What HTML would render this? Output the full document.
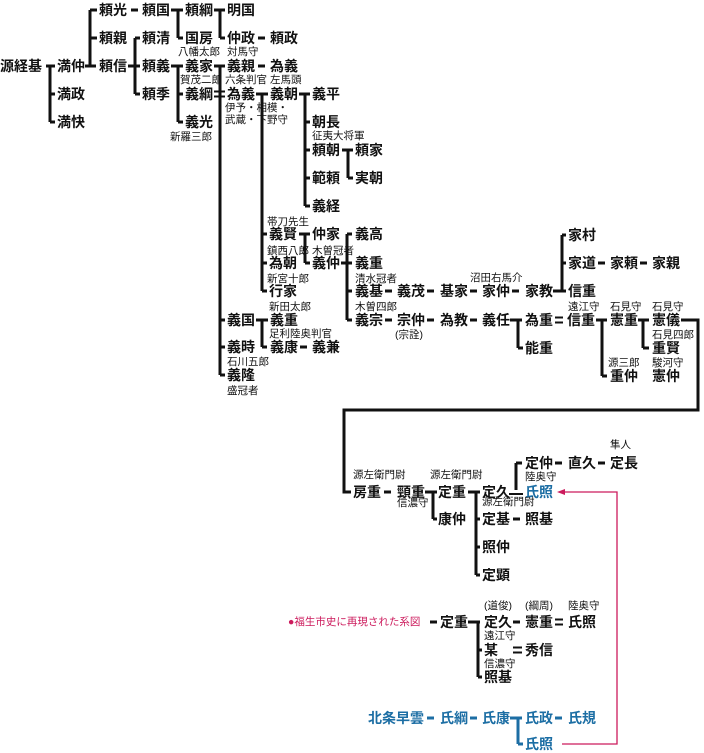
<!DOCTYPE html>
<html><head><meta charset="utf-8">
<style>
html,body{margin:0;padding:0;background:#fff;}
svg{display:block;}
.n{font-family:"Liberation Sans","Noto Sans CJK JP",sans-serif;font-size:14px;font-weight:bold;fill:#111;}
.s{font-family:"Liberation Sans","Noto Sans CJK JP",sans-serif;font-size:10.5px;fill:#111;}
.b{fill:#1c6ea4;}
.p{font-family:"Liberation Sans","Noto Sans CJK JP",sans-serif;font-size:10.5px;fill:#cc1a5c;}
</style></head>
<body>
<svg width="704" height="753" viewBox="0 0 704 753" xmlns="http://www.w3.org/2000/svg">
<g stroke="#111" stroke-width="3" fill="none">
<path d="M46 66H55M50 66V122M50 94H55M50 122H55"/>
<path d="M85 66H96M90 10V67M90 10H97M90 38H97"/>
<path d="M131 10H138"/>
<path d="M128 66H140M135 38V94M135 38H140M135 94H140"/>
<path d="M171 10H183M178 10V38M178 38H183"/>
<path d="M214 10H225M220 10V38M220 38H225"/>
<path d="M258 38H265"/>
<path d="M171 66H183M178 66V122M178 94H183M178 122H183"/>
<path d="M214 66H225M220 66V375M220 320H225M220 347H225M220 375H225"/>
<path d="M258 66H265"/>
<path d="M256 94H268M262 94V291M262 234H267M262 263H267M262 291H267"/>
<!-- 義国 -->
<path d="M256 320H268M262 320V347M262 347H267"/>
<path d="M300 347H307"/>
<path d="M299 94H310M305 94V206M305 122H310M305 150H310M305 178H310M305 206H310"/>
<path d="M342 150H353M348 150V178M348 178H353"/>
<path d="M299 234H310M305 234V263M305 263H310"/>
<path d="M341 263H352M347 234V320M347 234H352M347 291H352M347 320H352"/>
<path d="M385 291H392M427 291H434M470 291H477M512 291H519"/>
<path d="M553 291H566M562 235V291M562 235H566M562 263H566"/>
<path d="M598 263H605M640 263H647"/>
<path d="M385 320H392M427 320H434M470 320H477"/>
<path d="M510 320H522M518 320V348M518 348H523"/>
<path d="M596 320H607M602 320V376M602 376H607"/>
<path d="M638 320H649M643 320V348M643 348H649"/>
<path d="M681 320H698V410H344V492H351"/>
<path d="M384 492H391"/>
<path d="M425 492H437M433 492V519M433 519H437"/>
<path d="M468 492H480M476 492V575M476 519H480M476 547H480M476 575H480"/>
<path d="M516 463V490M516 463H522"/>
<path d="M513 519H520M555 463H562M598 463H605"/>
<path d="M430 622H437M468 622H480M478 622V677M478 650H482M478 677H482M513 622H520"/>
</g>
<g stroke="#111" stroke-width="2" fill="none">
<path d="M214 91.5H225M214 96.5H225"/>
<path d="M555 317.5H563M555 322.5H563"/>
<path d="M509 494H523"/>
<path d="M555 619.5H563M555 624.5H563"/>
<path d="M513 647.5H522M513 652.5H522"/>
</g>
<g stroke="#1c6ea4" stroke-width="3" fill="none">
<path d="M427 718H434M470 718H477M510 718H522M518 718V744M518 744H523M555 718H562"/>
</g>
<g stroke="#cc1a5c" stroke-width="1.3" fill="none">
<path d="M563 492H617V744H562"/>
</g>
<path d="M557 492L565 489L565 495Z" fill="#cc1a5c"/>

<g class="n" dominant-baseline="central">
<text x="0" y="66">源経基</text>
<text x="57" y="66">満仲</text><text x="57" y="94">満政</text><text x="57" y="122">満快</text>
<text x="99" y="10">頼光</text><text x="99" y="38">頼親</text><text x="99" y="66">頼信</text>
<text x="142" y="10">頼国</text><text x="142" y="38">頼清</text><text x="142" y="66">頼義</text><text x="142" y="94">頼季</text>
<text x="185" y="10">頼綱</text><text x="185" y="38">国房</text><text x="185" y="66">義家</text><text x="185" y="94">義綱</text><text x="185" y="122">義光</text>
<text x="227" y="10">明国</text><text x="227" y="38">仲政</text><text x="227" y="66">義親</text><text x="227" y="94">為義</text>
<text x="270" y="38">頼政</text><text x="270" y="66">為義</text><text x="270" y="94">義朝</text>
<text x="312" y="94">義平</text><text x="312" y="122">朝長</text><text x="312" y="150">頼朝</text><text x="312" y="178">範頼</text><text x="312" y="206">義経</text>
<text x="355" y="150">頼家</text><text x="355" y="178">実朝</text>
<text x="269" y="234">義賢</text><text x="269" y="263">為朝</text><text x="269" y="291">行家</text>
<text x="312" y="234">仲家</text><text x="312" y="263">義仲</text>
<text x="355" y="234">義高</text><text x="355" y="263">義重</text><text x="355" y="291">義基</text><text x="355" y="320">義宗</text>
<text x="397" y="291">義茂</text><text x="440" y="291">基家</text><text x="482" y="291">家仲</text><text x="525" y="291">家教</text>
<text x="568" y="235">家村</text><text x="568" y="263">家道</text><text x="610" y="263">家頼</text><text x="652" y="263">家親</text><text x="568" y="291">信重</text>
<text x="397" y="320">宗仲</text><text x="440" y="320">為教</text><text x="482" y="320">義任</text><text x="525" y="320">為重</text><text x="525" y="348">能重</text>
<text x="567" y="320">信重</text><text x="610" y="320">憲重</text><text x="652" y="320">憲儀</text><text x="652" y="348">重賢</text>
<text x="610" y="376">重仲</text><text x="652" y="376">憲仲</text>
<text x="227" y="320">義国</text><text x="227" y="347">義時</text><text x="227" y="375">義隆</text>
<text x="270" y="320">義重</text><text x="270" y="347">義康</text><text x="312" y="347">義兼</text>
<text x="353" y="492">房重</text><text x="397" y="492">頸重</text><text x="438" y="492">定重</text><text x="438" y="519">康仲</text>
<text x="482" y="492">定久</text><text x="482" y="519">定基</text><text x="525" y="519">照基</text><text x="482" y="547">照仲</text><text x="482" y="575">定顕</text>
<text x="525" y="463">定仲</text><text x="568" y="463">直久</text><text x="610" y="463">定長</text>
<text x="525" y="492" class="b">氏照</text>
<text x="440" y="622">定重</text><text x="484" y="622">定久</text><text x="525" y="622">憲重</text><text x="568" y="622">氏照</text>
<text x="484" y="650">某</text><text x="525" y="650">秀信</text><text x="484" y="677">照基</text>
<g class="b">
<text x="368" y="718">北条早雲</text><text x="440" y="718">氏綱</text><text x="482" y="718">氏康</text><text x="525" y="718">氏政</text><text x="568" y="718">氏規</text><text x="525" y="744">氏照</text>
</g>
</g>

<g class="s" dominant-baseline="central">
<text x="178" y="52">八幡太郎</text><text x="227" y="52">対馬守</text>
<text x="180" y="80">賀茂二郎</text><text x="225" y="80">六条判官</text><text x="270" y="80">左馬頭</text>
<text x="225" y="108">伊予・相模・</text><text x="225" y="120">武蔵・下野守</text>
<text x="170" y="137">新羅三郎</text>
<text x="312" y="136">征夷大将軍</text>
<text x="267" y="222">帯刀先生</text><text x="267" y="251">鎮西八郎</text><text x="312" y="251">木曽冠者</text>
<text x="267" y="279">新宮十郎</text><text x="269" y="307">新田太郎</text><text x="269" y="334">足利陸奥判官</text>
<text x="227" y="362">石川五郎</text><text x="227" y="391">盛冠者</text>
<text x="355" y="279">清水冠者</text><text x="355" y="307">木曽四郎</text><text x="395" y="335">(宗詮)</text>
<text x="470" y="278">沼田右馬介</text>
<text x="568" y="307">遠江守</text><text x="610" y="307">石見守</text><text x="652" y="307">石見守</text>
<text x="652" y="335">石見四郎</text><text x="608" y="363">源三郎</text><text x="652" y="363">駿河守</text>
<text x="610" y="445">隼人</text>
<text x="353" y="475">源左衛門尉</text><text x="430" y="475">源左衛門尉</text><text x="525" y="477">陸奥守</text>
<text x="397" y="503">信濃守</text><text x="482" y="502">源左衛門尉</text>
<text x="484" y="606">(道俊)</text><text x="525" y="606">(綱周)</text><text x="568" y="606">陸奥守</text>
<text x="484" y="636">遠江守</text><text x="484" y="664">信濃守</text>
</g>
<text class="p" x="288" y="622" dominant-baseline="central">●福生市史に再現された系図</text>
</svg>
</body></html>
